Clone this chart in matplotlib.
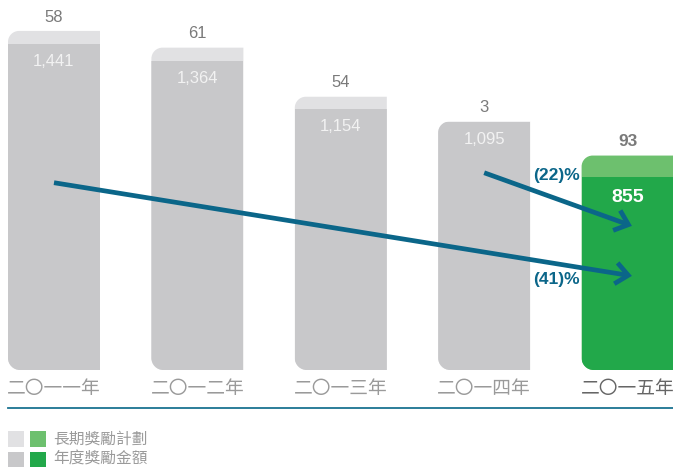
import matplotlib
matplotlib.use("Agg")
import matplotlib.pyplot as plt
from matplotlib.path import Path
from matplotlib.patches import PathPatch, Rectangle, FancyArrowPatch

# ---- data ----
years = ["二〇一一年", "二〇一二年", "二〇一三年", "二〇一四年", "二〇一五年"]
annual_bonus = [1441, 1364, 1154, 1095, 855]      # 年度獎勵金額
long_term = [58, 61, 54, 3, 93]                   # 長期獎勵計劃
legend_labels = ["長期獎勵計劃", "年度獎勵金額"]
change_labels = ["(22)%", "(41)%"]

# ---- style ----
GRAY_DARK = "#C8C8CA"
GRAY_LIGHT = "#E1E1E3"
GREEN_DARK = "#22A84A"
GREEN_LIGHT = "#6DC06E"
TEAL = "#0B6689"
LABEL_GRAY = "#7A7A7A"
CAT_GRAY = "#9A9A9A"

W, H = 673, 470
fig = plt.figure(figsize=(W / 100, H / 100), dpi=100)
ax = fig.add_axes([0, 0, 1, 1])
ax.set_axis_off()

px_per_x = 143.4          # pixels per category step
px_per_y = 0.2262         # pixels per value unit
x_first_center = 54       # pixel centre of first bar
baseline_px = 370
ax.set_xlim(-x_first_center / px_per_x, (W - x_first_center) / px_per_x)
ax.set_ylim(-(H - baseline_px) / px_per_y, baseline_px / px_per_y)

bar_w = 92 / px_per_x
r_top, r_bot = 11, 12     # corner radii in pixels
K = 0.5523


def bar_path(x0, x1, top):
    """Bar outline with rounded top-left and bottom-left corners."""
    rxt, ryt = r_top / px_per_x, r_top / px_per_y
    rxb, ryb = r_bot / px_per_x, r_bot / px_per_y
    verts = [
        (x0, ryb),
        (x0, top - ryt),
        (x0, top - ryt + K * ryt), (x0 + rxt - K * rxt, top), (x0 + rxt, top),
        (x1, top),
        (x1, 0),
        (x0 + rxb, 0),
        (x0 + rxb - K * rxb, 0), (x0, ryb - K * ryb), (x0, ryb),
        (x0, ryb),
    ]
    codes = [Path.MOVETO, Path.LINETO,
             Path.CURVE4, Path.CURVE4, Path.CURVE4,
             Path.LINETO, Path.LINETO, Path.LINETO,
             Path.CURVE4, Path.CURVE4, Path.CURVE4,
             Path.CLOSEPOLY]
    return Path(verts, codes)


num_font = ["Liberation Sans", "DejaVu Sans"]
cjk_font = ["Noto Sans CJK TC", "DejaVu Sans"]

for i, (a, b) in enumerate(zip(annual_bonus, long_term)):
    last = i == len(years) - 1
    dark = GREEN_DARK if last else GRAY_DARK
    light = GREEN_LIGHT if last else GRAY_LIGHT
    x0, x1 = i - bar_w / 2, i + bar_w / 2
    total = a + b
    shape = PathPatch(bar_path(x0, x1, total), facecolor=light, edgecolor="none")
    ax.add_patch(shape)
    lower = Rectangle((x0, 0), bar_w, a, facecolor=dark, edgecolor="none")
    ax.add_patch(lower)
    lower.set_clip_path(shape)

    # value labels
    ax.annotate(f"{b}", (i, total), xytext=(0, 10), textcoords="offset points",
                ha="center", va="center", family=num_font,
                fontsize=12.5 if last else 12,
                fontweight="bold" if last else "normal", color=LABEL_GRAY)
    ax.annotate(f"{a:,}", (i, a), xytext=(0, -15 if last else -12.5),
                textcoords="offset points",
                ha="center", va="center", family=num_font,
                fontsize=14 if last else 12,
                fontweight="bold" if last else "normal",
                color="white" if last else "#F2F2F2")

    # category labels
    ax.annotate(years[i], (i, 0), xytext=(0, -13.5), textcoords="offset points",
                ha="center", va="center", family=cjk_font, fontsize=13.5,
                fontweight="medium" if last else "light",
                color="#666666" if last else CAT_GRAY)

# baseline rule
ax.axhline(-(408 - baseline_px) / px_per_y, xmin=8 / W, xmax=1, color="#1A7391", lw=1.3)

# change arrows (2015 vs 2011 and 2015 vs 2014)
arrow_specs = [((0.0, 828), (4.03, 416)), ((3.0, 872), (4.03, 637))]
for (pa, pb) in arrow_specs:
    ax.add_patch(FancyArrowPatch(pa, pb, arrowstyle="->,head_length=0.45,head_width=0.38",
                                 mutation_scale=20, lw=3.4, color=TEAL,
                                 shrinkA=0, shrinkB=0, joinstyle="miter", capstyle="butt"))

for txt, y in zip(change_labels, [862, 400]):
    ax.text(3.665, y, txt, ha="right", va="center", family=num_font,
            fontsize=12.5, fontweight="bold", color=TEAL)

# legend
sq = 15.7
rows = [(431, GRAY_LIGHT, GREEN_LIGHT), (451.5, GRAY_DARK, GREEN_DARK)]
for (top, c1, c2), label in zip(rows, legend_labels):
    for left, c in ((8.3, c1), (30, c2)):
        fig.add_artist(Rectangle((left / W, 1 - (top + sq) / H), sq / W, sq / H,
                                 transform=fig.transFigure, facecolor=c, edgecolor="none"))
    fig.text(53 / W, 1 - (top + sq / 2) / H, label, ha="left", va="center",
             family=cjk_font, fontsize=11.3, fontweight="light", color=CAT_GRAY)

fig.savefig("out.png", dpi=100)
